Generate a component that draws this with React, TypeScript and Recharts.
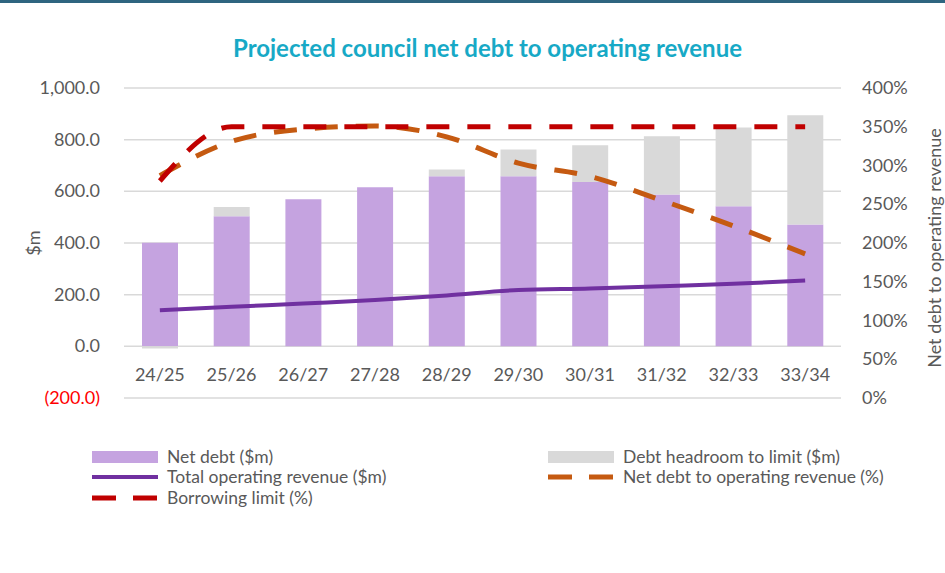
import { ComposedChart, Bar, Line, XAxis, YAxis, CartesianGrid } from 'recharts';

const categories = ['24/25', '25/26', '26/27', '27/28', '28/29', '29/30', '30/31', '31/32', '32/33', '33/34'];
const netDebt = [401, 504, 569, 616, 658, 658, 636, 588, 542, 472];
const headroom = [-8, 35, 0, 0, 27, 104, 142, 225, 305, 423];
const revenue = [140, 153, 166, 179, 197, 218, 224, 233, 242, 255];
const netDebtRatio = [287, 331, 347, 351, 337, 303, 286, 255, 222, 186];
const borrowingLimit = [280, 350, 350, 350, 350, 350, 350, 350, 350, 350];
const leftTicks = [-200, 0, 200, 400, 600, 800, 1000];
const rightTicks = [0, 50, 100, 150, 200, 250, 300, 350, 400];

const data = categories.map((c, i) => ({
  name: c,
  netDebt: netDebt[i],
  headroom: headroom[i],
  revenue: revenue[i],
  ratio: netDebtRatio[i],
  limit: borrowingLimit[i],
}));

const FONT = 'Lato, "Open Sans", sans-serif';
const TEXT = '#595959';

function fmtLeft(v: number) {
  const s = Math.abs(v).toLocaleString('en-US', { minimumFractionDigits: 1, maximumFractionDigits: 1 });
  return v < 0 ? `(${s})` : s;
}

const LeftTick = (props: any) => {
  const { x, y, payload } = props;
  const v = payload.value;
  return (
    <text x={x - 24} y={y} dy={6} textAnchor="end" fontSize={18} fontFamily={FONT} fill={v < 0 ? '#FF0000' : TEXT}>
      {fmtLeft(v)}
    </text>
  );
};

const RightTick = (props: any) => {
  const { x, y, payload } = props;
  return (
    <text x={x + 21} y={y} dy={6} textAnchor="start" fontSize={18} fontFamily={FONT} fill={TEXT}>
      {payload.value}%
    </text>
  );
};

const CatTick = (props: any) => {
  const { x, y, payload } = props;
  return (
    <text x={x} y={y} dy={-17} textAnchor="middle" fontSize={18} fontFamily={FONT} fill={TEXT}>
      {payload.value}
    </text>
  );
};

const legendItems = [
  { label: 'Net debt ($m)', kind: 'bar', color: '#C5A3E0', left: 92, top: 446 },
  { label: 'Debt headroom to limit ($m)', kind: 'bar', color: '#D9D9D9', left: 548, top: 446 },
  { label: 'Total operating revenue ($m)', kind: 'line', color: '#7030A0', left: 92, top: 466 },
  { label: 'Net debt to operating revenue (%)', kind: 'dash', color: '#C55A11', left: 548, top: 466 },
  { label: 'Borrowing limit (%)', kind: 'dash', color: '#C00000', left: 92, top: 487 },
];

function Swatch({ kind, color }: { kind: string; color: string }) {
  return (
    <svg width={66} height={16} style={{ display: 'block' }}>
      {kind === 'bar' && <rect x={0} y={2} width={66} height={12} fill={color} />}
      {kind === 'line' && <line x1={0} y1={8} x2={66} y2={8} stroke={color} strokeWidth={4} />}
      {kind === 'dash' && (
        <line x1={0} y1={8} x2={66} y2={8} stroke={color} strokeWidth={5} strokeDasharray="24 17" />
      )}
    </svg>
  );
}

export default function App() {
  return (
    <div style={{ position: 'absolute', left: 0, top: 0, width: 945, height: 573, background: '#fff', fontFamily: FONT }}>
      <div style={{ position: 'absolute', left: 0, top: 0, width: 945, height: 3, background: '#2E6580' }} />
      <div
        style={{
          position: 'absolute',
          left: 0,
          top: 33,
          width: 975,
          textAlign: 'center',
          fontSize: 24,
          fontWeight: 700,
          color: '#17A9C6',
        }}
      >
        Projected council net debt to operating revenue
      </div>
      <ComposedChart
        width={945}
        height={573}
        data={data}
        stackOffset="sign"
        margin={{ top: 88, right: 0, bottom: 145, left: 0 }}
      >
        <CartesianGrid yAxisId="left" vertical={false} stroke="#D9D9D9" strokeWidth={1.5} />
        <XAxis
          dataKey="name"
          axisLine={false}
          tickLine={false}
          tickSize={0}
          tickMargin={0}
          height={30}
          interval={0}
          tick={<CatTick />}
        />
        <YAxis
          yAxisId="left"
          width={124}
          domain={[-200, 1000]}
          ticks={leftTicks}
          axisLine={false}
          tickLine={false}
          tickSize={0}
          tickMargin={0}
          tick={<LeftTick />}
        />
        <YAxis
          yAxisId="right"
          orientation="right"
          width={104}
          domain={[0, 400]}
          ticks={rightTicks}
          axisLine={false}
          tickLine={false}
          tickSize={0}
          tickMargin={0}
          tick={<RightTick />}
        />
        <Bar yAxisId="left" dataKey="netDebt" stackId="a" fill="#C5A3E0" barSize={36} isAnimationActive={false} />
        <Bar yAxisId="left" dataKey="headroom" stackId="a" fill="#D9D9D9" barSize={36} isAnimationActive={false} />
        <Line yAxisId="left" dataKey="revenue" type="monotone" stroke="#7030A0" strokeWidth={4} dot={false} isAnimationActive={false} />
        <Line
          yAxisId="right"
          dataKey="ratio"
          type="monotone"
          stroke="#C55A11"
          strokeWidth={5}
          strokeDasharray="23 18"
          dot={false}
          isAnimationActive={false}
        />
        <Line
          yAxisId="right"
          dataKey="limit"
          type="monotone"
          stroke="#C00000"
          strokeWidth={5}
          strokeDasharray="23 18"
          dot={false}
          isAnimationActive={false}
        />
      </ComposedChart>
      <div
        style={{
          position: 'absolute',
          left: 33 - 30,
          top: 243 - 11,
          width: 60,
          textAlign: 'center',
          fontSize: 18,
          lineHeight: '22px',
          color: TEXT,
          transform: 'rotate(-90deg)',
        }}
      >
        $m
      </div>
      <div
        style={{
          position: 'absolute',
          left: 934 - 150,
          top: 248 - 11,
          width: 300,
          textAlign: 'center',
          fontSize: 18,
          lineHeight: '22px',
          color: TEXT,
          whiteSpace: 'nowrap',
          transform: 'rotate(-90deg)',
        }}
      >
        Net debt to operating revenue
      </div>
      {legendItems.map((it) => (
        <div
          key={it.label}
          style={{ position: 'absolute', left: it.left, top: it.top, display: 'flex', alignItems: 'center', gap: 9, fontSize: 17.5, lineHeight: '22px', color: TEXT }}
        >
          <Swatch kind={it.kind} color={it.color} />
          <span>{it.label}</span>
        </div>
      ))}
    </div>
  );
}
